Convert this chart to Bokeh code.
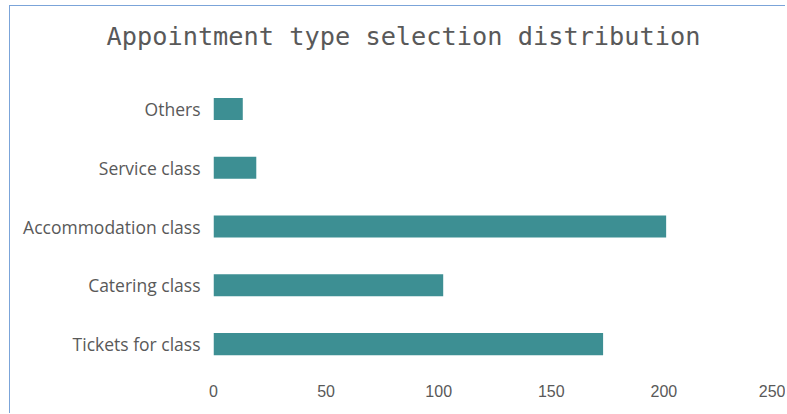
from bokeh.plotting import figure
from bokeh.models import FactorRange, Range1d, FixedTicker
from bokeh.embed import file_html
from bokeh.resources import INLINE

categories = ["Tickets for class", "Catering class", "Accommodation class", "Service class", "Others"]
counts = [173, 102, 201, 19, 13]
x_ticks = [0, 50, 100, 150, 200, 250]
title_text = "Appointment type selection distribution"

BAR = "#3d8f93"
TXT = "#595959"

p = figure(
    width=776, height=408,
    y_range=FactorRange(factors=categories, range_padding=0),
    x_range=Range1d(0, 250),
    output_backend="svg", toolbar_location=None,
    min_border_left=203, min_border_right=10, min_border_top=73, min_border_bottom=41,
    title=title_text + "\n ",
)
p.styles = {"border-left": "1px solid #7ba4d9", "border-top": "1px solid #7ba4d9",
            "margin-left": "9px", "margin-top": "5px"}

p.hbar(y=categories, right=counts, left=0, height=0.375, fill_color=BAR, line_color=None)

p.title.text_font = "DejaVu Sans Mono"
p.title.text_font_size = "25.3px"
p.title.text_font_style = "normal"
p.title.text_color = TXT
p.title.align = "left"
p.title.offset = -107
p.title.standoff = 0

p.outline_line_color = None
p.xgrid.grid_line_color = None
p.ygrid.grid_line_color = None

p.xaxis.ticker = FixedTicker(ticks=x_ticks)
p.xaxis.axis_line_color = None
p.xaxis.major_tick_line_color = None
p.xaxis.minor_tick_line_color = None
p.xaxis.major_label_text_font = "Liberation Sans"
p.xaxis.major_label_text_font_size = "16px"
p.xaxis.major_label_text_color = TXT
p.xaxis.major_label_standoff = 5

p.yaxis.axis_line_color = None
p.yaxis.major_tick_line_color = None
p.yaxis.minor_tick_line_color = None
p.yaxis.major_label_text_font = "Open Sans"
p.yaxis.major_label_text_font_size = "17.5px"
p.yaxis.major_label_text_color = TXT
p.yaxis.major_label_standoff = 7

open("out.html", "w").write(file_html(p, INLINE))
